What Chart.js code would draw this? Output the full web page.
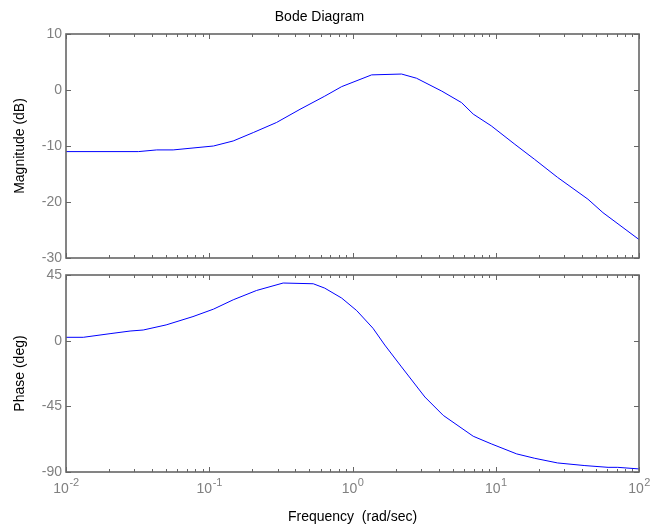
<!DOCTYPE html>
<html><head><meta charset="utf-8">
<script src="https://cdn.jsdelivr.net/npm/chart.js@4"></script>
<style>
html,body{margin:0;padding:0;background:#fff;}
#wrap{position:relative;width:650px;height:531px;overflow:hidden;}
#c1{position:absolute;left:0;top:0;}
#c2{position:absolute;left:0;top:265px;}
</style></head><body>
<div id="wrap">
<canvas id="c1" width="650" height="265"></canvas>
<canvas id="c2" width="650" height="266"></canvas>
</div>
<script>
// ---- data ----
const magFreq = [0.01, 0.032, 0.043, 0.056, 0.107, 0.147, 0.203, 0.295, 0.43, 0.64, 0.84, 1.36, 2.2, 2.8, 4.2, 5.77, 6.96, 9.3, 13.6, 18.7, 27, 44, 56, 100];
const magDb   = [-11.0, -11.0, -10.7, -10.7, -10.0, -9.1, -7.6, -5.8, -3.45, -1.1, 0.6, 2.7, 2.85, 2.1, -0.2, -2.25, -4.3, -6.4, -9.7, -12.4, -15.6, -19.5, -21.9, -26.7];
const phaseFreq = [0.01, 0.0132, 0.0203, 0.028, 0.0346, 0.05, 0.077, 0.107, 0.147, 0.214, 0.328, 0.532, 0.64, 0.84, 1.07, 1.39, 1.68, 2.2, 3.2, 4.3, 6.96, 9.3, 14, 18.7, 27, 41.9, 60.8, 71, 100];
const phaseDeg  = [2.3, 2.3, 4.8, 6.6, 7.3, 10.8, 16.5, 21.6, 28, 34.4, 39.5, 39, 36, 29.2, 20.6, 8.5, -3, -18, -38.6, -51.2, -65.5, -70.7, -77.6, -80.6, -83.8, -85.6, -86.8, -86.8, -87.9];
const xMajorTicks = [0.01, 0.1, 1, 10, 100];
const xTickLabels = [["10","-2"],["10","-1"],["10","0"],["10","1"],["10","2"]];
const magTicks = [-30, -20, -10, 0, 10];
const phaseTicks = [-90, -45, 0, 45];
const titleText = 'Bode Diagram';
const magTitle = 'Magnitude (dB)';
const phaseTitle = 'Phase (deg)';
const freqTitle = 'Frequency  (rad/sec)';

const FONT = 'Liberation Sans, Arial, Helvetica, sans-serif';
const GRAY = '#808080';
const FRAME = '#666666';

// frame + inward MATLAB-style tick marks
const framePlugin = {
  id: 'frame',
  afterDatasetsDraw(chart) {
    const ctx = chart.ctx, a = chart.chartArea;
    const xs = chart.scales.x, ys = chart.scales.y;
    ctx.save();
    ctx.strokeStyle = FRAME;
    ctx.lineWidth = 1;
    ctx.beginPath();
    for (let d = 0; d < xMajorTicks.length; d++) {
      const base = xMajorTicks[d];
      for (let m = 1; m <= 9; m++) {
        const v = base * m;
        if (v > xs.max * 1.0001) break;
        const px = Math.round(xs.getPixelForValue(v)) + 0.5;
        const len = (m === 1) ? 5 : 3;
        ctx.moveTo(px, a.bottom); ctx.lineTo(px, a.bottom - len);
        ctx.moveTo(px, a.top); ctx.lineTo(px, a.top + len);
      }
    }
    ys.ticks.forEach(t => {
      const py = Math.round(ys.getPixelForValue(t.value)) + 0.5;
      ctx.moveTo(a.left, py); ctx.lineTo(a.left + 5, py);
      ctx.moveTo(a.right, py); ctx.lineTo(a.right - 5, py);
    });
    ctx.stroke();
    ctx.lineWidth = 1.6;
    ctx.strokeRect(a.left, a.top, a.right - a.left, a.bottom - a.top);
    ctx.restore();
  }
};

// x tick labels "10" with superscript exponent
const xLabelPlugin = {
  id: 'xlabels',
  afterDraw(chart) {
    const ctx = chart.ctx, xs = chart.scales.x, a = chart.chartArea;
    ctx.save();
    ctx.fillStyle = GRAY;
    ctx.textBaseline = 'alphabetic';
    ctx.textAlign = 'left';
    xMajorTicks.forEach((v, i) => {
      const px = xs.getPixelForValue(v);
      const [b, e] = xTickLabels[i];
      ctx.font = '14px ' + FONT;
      const wb = ctx.measureText(b).width;
      ctx.font = '11px ' + FONT;
      const we = ctx.measureText(e).width;
      const x0 = px - (wb + we) / 2;
      ctx.font = '14px ' + FONT;
      ctx.fillText(b, x0, a.bottom + 21);
      ctx.font = '11px ' + FONT;
      ctx.fillText(e, x0 + wb + 0.5, a.bottom + 14);
    });
    ctx.restore();
  }
};

function lineDs(xs, ys) {
  return {
    data: xs.map((f, i) => ({x: f, y: ys[i]})),
    showLine: true, borderColor: '#0000ff', borderWidth: 1,
    pointRadius: 0, fill: false, tension: 0
  };
}

function yScale(min, max, ticksArr, title) {
  return {
    type: 'linear', min: min, max: max,
    afterBuildTicks: s => { s.ticks = ticksArr.map(v => ({value: v})); },
    afterFit: s => { s.width = 66; s.paddingTop = 0; s.paddingBottom = 0; },
    grid: {display: false, drawTicks: false, tickLength: 0},
    border: {display: false},
    ticks: {color: GRAY, font: {family: FONT, size: 14}, padding: 4},
    title: {display: true, text: title, color: '#000', font: {family: FONT, size: 14}, padding: {top: 12, bottom: 0}}
  };
}

new Chart(document.getElementById('c1'), {
  type: 'scatter',
  data: {datasets: [lineDs(magFreq, magDb)]},
  options: {
    responsive: false, animation: false, devicePixelRatio: 1,
    layout: {padding: {left: 0, right: 11, top: 0, bottom: 7}},
    plugins: {
      legend: {display: false}, tooltip: {enabled: false},
      title: {display: true, text: titleText, color: '#000', font: {family: FONT, size: 14, weight: 'normal'}, padding: {top: 9, bottom: 8.2}}
    },
    scales: {
      x: {type: 'logarithmic', min: 0.01, max: 100, display: false},
      y: yScale(-30, 10, magTicks, magTitle)
    }
  },
  plugins: [framePlugin]
});

new Chart(document.getElementById('c2'), {
  type: 'scatter',
  data: {datasets: [lineDs(phaseFreq, phaseDeg)]},
  options: {
    responsive: false, animation: false, devicePixelRatio: 1,
    layout: {padding: {left: 0, right: 11, top: 10, bottom: 0}},
    plugins: {legend: {display: false}, tooltip: {enabled: false}},
    scales: {
      x: {
        type: 'logarithmic', min: 0.01, max: 100,
        afterFit: s => { s.height = 59; },
        grid: {display: false, drawTicks: false, tickLength: 0},
        border: {display: false},
        ticks: {display: false},
        title: {display: true, text: freqTitle, color: '#000', font: {family: FONT, size: 14}, padding: {top: 0, bottom: 5}}
      },
      y: yScale(-90, 45, phaseTicks, phaseTitle)
    }
  },
  plugins: [framePlugin, xLabelPlugin]
});
</script>
</body></html>
